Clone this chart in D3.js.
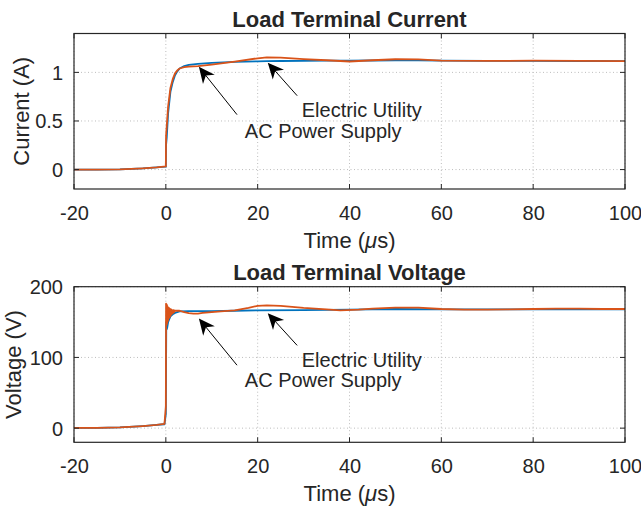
<!DOCTYPE html>
<html><head><meta charset="utf-8">
<script src="https://cdn.jsdelivr.net/npm/d3@7"></script>
<style>
body{margin:0;background:#fff;}
svg{display:block;}
text{font-family:"Liberation Sans",Arial,Helvetica,sans-serif;fill:#262626;}
</style></head>
<body><svg id="c" width="641" height="508"></svg>
<script>
// ---- data ----
const xTicks = [-20, 0, 20, 40, 60, 80, 100];
const iTicks = [0, 0.5, 1];
const vTicks = [0, 100, 200];

// Current, Electric Utility (blue)
const tIBlue = [-20,-15,-10,-5,-2,0,0.05,0.2,0.5,1,1.5,2,2.5,3,4,5,7,10,15,20,22,25,30,35,40,45,50,55,60,70,80,90,100];
const iBlue  = [0,0,0.002,0.012,0.022,0.03,0.25,0.33,0.58,0.8,0.9,0.97,1.01,1.04,1.065,1.078,1.088,1.098,1.108,1.113,1.115,1.117,1.118,1.12,1.12,1.122,1.124,1.124,1.12,1.118,1.118,1.117,1.115];
// Current, AC Power Supply (orange)
const tIOrange = [-20,-15,-10,-5,-2,0,0.05,0.2,0.5,1,1.5,2,2.5,3,4,5,7,10,15,20,22,25,30,35,40,45,50,55,60,70,80,90,100];
const iOrange  = [0,0,0.002,0.013,0.022,0.032,0.35,0.45,0.65,0.84,0.93,0.99,1.02,1.04,1.055,1.06,1.065,1.08,1.11,1.145,1.155,1.152,1.137,1.125,1.112,1.125,1.135,1.133,1.12,1.118,1.12,1.118,1.115];

// Voltage, Electric Utility (blue)
const tVBlue = [-20,-15,-10,-5,-2,-0.3,0,0.1,0.2,0.3,0.5,0.8,1,1.5,2,3,5,10,15,20,30,40,50,60,70,80,90,100];
const vBlue  = [0.5,0.5,1,3,4.5,5.5,20,150,140,142,150,155,158,161,163,165,165.5,165.5,166,166.5,167,167.5,168.5,168,168,168,168,168];
// Voltage, AC Power Supply (orange)
const tVOrange = [-20,-15,-10,-5,-2,-0.3,0,0.05,0.1,0.15,0.2,0.25,0.3,0.35,0.4,0.45,0.5,0.55,0.6,0.65,0.7,0.75,0.8,0.85,0.9,0.95,1,1.05,1.1,1.15,1.2,1.3,1.4,1.5,1.6,1.7,1.8,1.9,2,2.5,3,4,5,6,7,8,10,12,15,18,20,22,25,30,35,38,42,45,50,55,60,65,70,75,80,85,90,95,100];
const vOrange  = [0.5,0.5,1,3,4.5,6,30,176,145,175,147,174,149,172,151,171,153,170,155,170,156,169,157,169,158,168,159,168,160,168,161,167,162,167,163,167,164,166,166,166,166,164,162.5,162,162,163,164,165,166.5,170,173,173.5,173,170,168,166.5,167.5,169,170.5,170.5,168.5,167.5,167.5,168,168.5,169,169,168.5,168.5];

// annotations (data units)
const iArrows = [{tail:[15.5,0.565], head:[7.2,1.057]}, {tail:[28.6,0.76], head:[22.2,1.10]}];
const iLabels = [{text:"Electric Utility", at:[29.6,0.544]}, {text:"AC Power Supply", at:[17.2,0.329]}];
const vArrows = [{tail:[15.5,89], head:[7.2,155]}, {tail:[28.6,117], head:[22.2,162.5]}];
const vLabels = [{text:"Electric Utility", at:[29.6,86]}, {text:"AC Power Supply", at:[17.2,58]}];

const BLUE = "#0072BD", ORANGE = "#D95319", AX = "#262626";
const svg = d3.select("#c");
const left = 74, right = 625;

function panel(o){
  const x = d3.scaleLinear().domain([-20,100]).range([left,right]);
  const y = d3.scaleLinear().domain(o.ydom).range([o.bottom,o.top]);
  const g = svg.append("g");
  // grid
  g.selectAll(".gx").data(xTicks).enter().append("line")
    .attr("x1",d=>x(d)).attr("x2",d=>x(d)).attr("y1",o.top).attr("y2",o.bottom)
    .attr("stroke","#bdbdbd").attr("stroke-width",1).attr("stroke-dasharray","1,2.5");
  g.selectAll(".gy").data(o.yticks).enter().append("line")
    .attr("y1",d=>y(d)).attr("y2",d=>y(d)).attr("x1",left).attr("x2",right)
    .attr("stroke","#bdbdbd").attr("stroke-width",1).attr("stroke-dasharray","1,2.5");
  // clip
  const cid = "clip"+o.id;
  svg.append("clipPath").attr("id",cid).append("rect")
    .attr("x",left).attr("y",o.top).attr("width",right-left).attr("height",o.bottom-o.top);
  const gl = g.append("g").attr("clip-path","url(#"+cid+")");
  const line = d3.line().x(d=>x(d[0])).y(d=>y(d[1]));
  gl.append("path").datum(d3.zip(o.tb,o.vb)).attr("d",line)
    .attr("fill","none").attr("stroke",BLUE).attr("stroke-width",1.8).attr("stroke-linejoin","round");
  gl.append("path").datum(d3.zip(o.to,o.vo)).attr("d",line)
    .attr("fill","none").attr("stroke",ORANGE).attr("stroke-width",1.8).attr("stroke-linejoin","round");
  // axes
  const tl = 5;
  const ax = d3.axisBottom(x).tickValues(xTicks).tickSize(0).tickFormat(d=>String(d));
  const gx = g.append("g").attr("transform",`translate(0,${o.bottom})`).call(ax);
  gx.select(".domain").remove();
  gx.selectAll("text").attr("font-size",20).attr("fill",AX).attr("y",30.5).attr("dy",0);
  const ay = d3.axisLeft(y).tickValues(o.yticks).tickSize(0).tickFormat(d=>String(d));
  const gy = g.append("g").attr("transform",`translate(${left},0)`).call(ay);
  gy.select(".domain").remove();
  gy.selectAll("text").attr("font-size",20).attr("fill",AX).attr("x",-11).attr("dy","0.35em");
  g.selectAll("text").attr("font-family",null);
  // inward ticks on all sides
  xTicks.forEach(t=>{
    g.append("line").attr("x1",x(t)).attr("x2",x(t)).attr("y1",o.bottom).attr("y2",o.bottom-tl).attr("stroke",AX);
    g.append("line").attr("x1",x(t)).attr("x2",x(t)).attr("y1",o.top).attr("y2",o.top+tl).attr("stroke",AX);
  });
  o.yticks.forEach(t=>{
    g.append("line").attr("y1",y(t)).attr("y2",y(t)).attr("x1",left).attr("x2",left+tl).attr("stroke",AX);
    g.append("line").attr("y1",y(t)).attr("y2",y(t)).attr("x1",right).attr("x2",right-tl).attr("stroke",AX);
  });
  g.append("rect").attr("x",left).attr("y",o.top).attr("width",right-left).attr("height",o.bottom-o.top)
    .attr("fill","none").attr("stroke",AX).attr("stroke-width",1.2);
  // title
  g.append("text").attr("x",(left+right)/2).attr("y",o.top-7).attr("text-anchor","middle")
    .attr("font-size",22).attr("font-weight","bold").attr("fill","#000").text(o.title);
  // x label
  const xl = g.append("text").attr("x",(left+right)/2).attr("y",o.bottom+58.5).attr("text-anchor","middle")
    .attr("font-size",22).attr("fill",AX);
  xl.append("tspan").text("Time (");
  xl.append("tspan").attr("font-style","italic").text("\u03bc");
  xl.append("tspan").text("s)");
  // y label
  g.append("text").attr("transform",`translate(${o.ylx},${(o.top+o.bottom)/2}) rotate(-90)`)
    .attr("text-anchor","middle").attr("font-size",22).attr("fill",AX).text(o.ylabel);
  // arrows
  o.arrows.forEach(a=>{
    const x0=x(a.tail[0]), y0=y(a.tail[1]), x1=x(a.head[0]), y1=y(a.head[1]);
    const dx=x1-x0, dy=y1-y0, len=Math.hypot(dx,dy), ux=dx/len, uy=dy/len, nx=-uy, ny=ux;
    const L=16, W=7.5;
    g.append("line").attr("x1",x0).attr("y1",y0).attr("x2",x1-ux*L*0.6).attr("y2",y1-uy*L*0.6)
      .attr("stroke","#000").attr("stroke-width",1);
    const p=[[x1,y1],[x1-ux*L+nx*W,y1-uy*L+ny*W],[x1-ux*L*0.7,y1-uy*L*0.7],[x1-ux*L-nx*W,y1-uy*L-ny*W]];
    g.append("path").attr("d","M"+p.map(q=>q.join(",")).join("L")+"Z").attr("fill","#000");
  });
  o.labels.forEach(l=>{
    g.append("text").attr("x",x(l.at[0])).attr("y",y(l.at[1])).attr("font-size",20).attr("fill","#000").text(l.text);
  });
}

panel({id:1, top:33.5, bottom:189, ydom:[-0.2,1.4], yticks:iTicks,
  tb:tIBlue, vb:iBlue, to:tIOrange, vo:iOrange, title:"Load Terminal Current",
  ylabel:"Current (A)", ylx:29, arrows:iArrows, labels:iLabels});
panel({id:2, top:286.7, bottom:442.3, ydom:[-20,200], yticks:vTicks,
  tb:tVBlue, vb:vBlue, to:tVOrange, vo:vOrange, title:"Load Terminal Voltage",
  ylabel:"Voltage (V)", ylx:21, arrows:vArrows, labels:vLabels});
</script></body></html>
